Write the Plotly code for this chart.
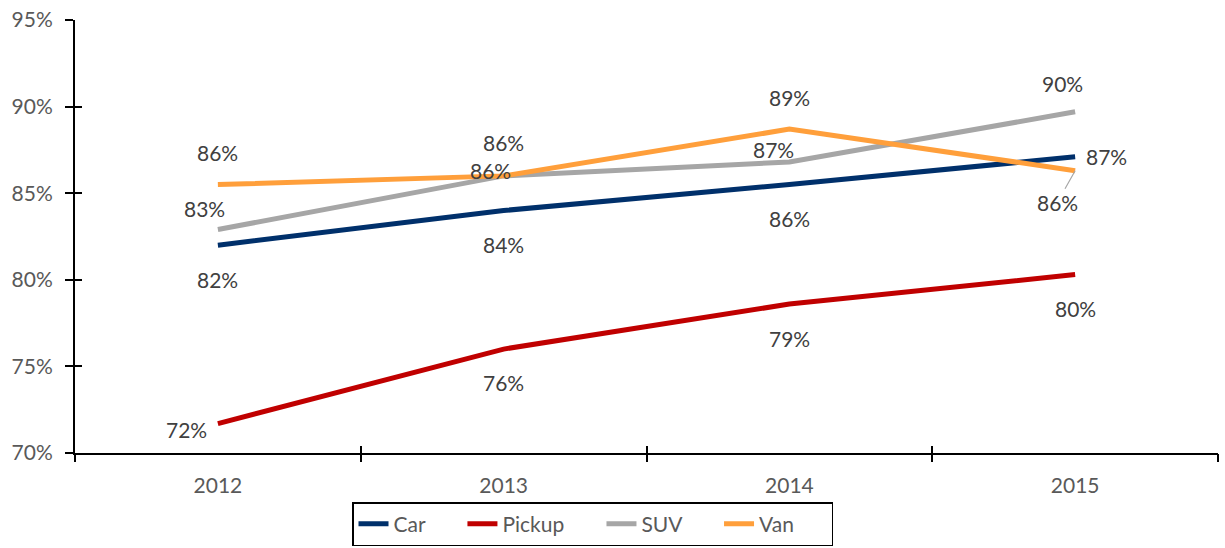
import plotly.graph_objects as go

years = ["2012", "2013", "2014", "2015"]
car = [82.0, 84.0, 85.5, 87.1]
pickup = [71.7, 76.0, 78.6, 80.3]
suv = [82.9, 86.0, 86.8, 89.7]
van = [85.5, 86.0, 88.7, 86.3]

series = [
    ("Car", car, "#00306B"),
    ("Pickup", pickup, "#C00000"),
    ("SUV", suv, "#A6A6A6"),
    ("Van", van, "#FF9F3B"),
]

# label offsets (xshift, yshift) in pixels per series/point
offsets = {
    "Car": [(0, -34), (0, -34), (0, -34), (31, 0)],
    "Pickup": [(-31, -6), (0, -33), (0, -34), (0, -34)],
    "SUV": [(-13, 21), (-13, 5), (-16, 13), (-13, 28)],
    "Van": [(0, 32), (0, 33), (0, 32), None],
}

FONT = "Lato"
FS = 21
NB = "\u00a0" * 6
xi = list(range(len(years)))

fig = go.Figure()
for name, vals, color in series:
    fig.add_trace(go.Scatter(
        x=xi, y=vals, name=name + NB, mode="lines",
        line=dict(color=color, width=5),
        hoverinfo="skip",
    ))

annotations = []
for name, vals, color in series:
    for i, v in enumerate(vals):
        off = offsets[name][i]
        txt = f"{int(v + 0.5)}%"
        if off is None:
            annotations.append(dict(
                x=xi[i], y=v, xref="x", yref="y", text=txt,
                showarrow=True, arrowhead=0, arrowwidth=1.2,
                arrowcolor="#A6A6A6", ax=-18, ay=32, standoff=0,
                font=dict(family=FONT, size=FS, color="#404040"),
            ))
        else:
            annotations.append(dict(
                x=xi[i], y=v, xref="x", yref="y", text=txt,
                showarrow=False, xshift=off[0], yshift=off[1],
                font=dict(family=FONT, size=FS, color="#404040"),
            ))

xr = [-0.5, len(years) - 0.5]
yr = [70, 95]
bounds = [i - 0.5 for i in range(len(years) + 1)]
fig.update_layout(
    width=1225, height=548,
    margin=dict(l=75, r=7, t=20, b=95, autoexpand=False),
    paper_bgcolor="white", plot_bgcolor="white",
    font=dict(family=FONT, size=FS, color="#595959"),
    showlegend=True,
    legend=dict(
        orientation="h", xanchor="left", x=(352 - 75) / 1143, yanchor="top",
        y=-49 / 433,
        bordercolor="black", borderwidth=1.5,
        font=dict(family=FONT, size=FS, color="#595959"),
        tracegroupgap=0,
    ),
    xaxis=dict(
        range=xr, tickvals=xi, ticktext=years, ticks="",
        showline=True, linecolor="black", linewidth=2, automargin=False,
        showgrid=False, zeroline=False, ticklabelstandoff=13,
        ticklabeloverflow="allow",
        tickfont=dict(family=FONT, size=FS, color="#595959"),
    ),
    xaxis2=dict(
        overlaying="x", anchor="y", side="bottom", range=xr,
        tickvals=bounds, automargin=False,
        ticks="outside", ticklen=8, tickwidth=2, tickcolor="black",
        showticklabels=False, showgrid=False, zeroline=False, showline=False,
    ),
    xaxis3=dict(
        overlaying="x", anchor="y", side="bottom", range=xr,
        tickvals=bounds, automargin=False,
        ticks="inside", ticklen=7, tickwidth=2, tickcolor="black",
        showticklabels=False, showgrid=False, zeroline=False, showline=False,
    ),
    yaxis=dict(
        range=yr, dtick=5, ticksuffix="%", ticks="outside", ticklen=8,
        tickwidth=2, tickcolor="black", automargin=False,
        showline=True, linecolor="black", linewidth=2,
        showgrid=False, zeroline=False, ticklabelstandoff=8,
        ticklabeloverflow="allow",
        tickfont=dict(family=FONT, size=FS, color="#595959"),
    ),
    yaxis2=dict(
        overlaying="y", anchor="x", side="left", range=yr, dtick=5,
        ticks="inside", ticklen=7, tickwidth=2, tickcolor="black",
        automargin=False,
        showticklabels=False, showgrid=False, zeroline=False, showline=False,
    ),
    annotations=annotations,
)

fig.add_trace(go.Scatter(x=[None], y=[None], xaxis="x2", yaxis="y2",
                         showlegend=False, hoverinfo="skip"))
fig.add_trace(go.Scatter(x=[None], y=[None], xaxis="x3", yaxis="y",
                         showlegend=False, hoverinfo="skip"))

fig.write_html(
    "out.html",
    config={"displayModeBar": False},
    post_script="document.body.style.margin='0';document.body.style.overflow='hidden';",
)
